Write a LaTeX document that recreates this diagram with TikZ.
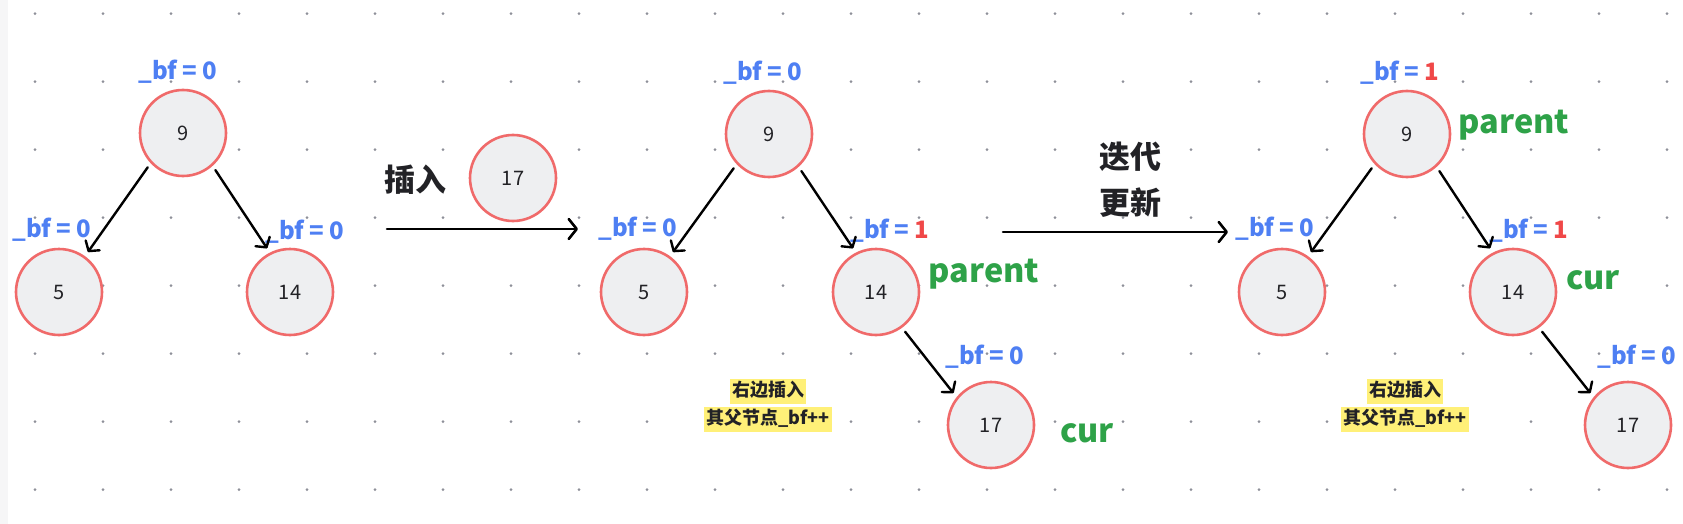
\documentclass[tikz,border=0pt]{standalone}
\usepackage{fontspec}
\setmainfont{Noto Sans CJK SC}
\usetikzlibrary{arrows.meta}
\definecolor{bfblue}{RGB}{78,127,243}
\definecolor{bfred}{RGB}{240,72,72}
\definecolor{ptgreen}{RGB}{46,162,72}
\definecolor{ringred}{RGB}{240,106,106}
\definecolor{ringfill}{RGB}{238,239,241}
\definecolor{dotgray}{RGB}{142,144,153}
\definecolor{hlyellow}{RGB}{255,240,120}
\definecolor{inkdark}{RGB}{34,34,38}
\definecolor{bandgray}{RGB}{246,246,247}
\begin{document}
\begin{tikzpicture}[x=1pt,y=-1pt,
  tnode/.style={circle,draw=ringred,fill=ringfill,line width=2.6pt,minimum size=86pt,inner sep=0pt,
    text=inkdark,font=\fontsize{20}{24}\selectfont},
  bf/.style={text=bfblue,font=\bfseries\fontsize{24}{28}\selectfont,inner sep=0pt},
  role/.style={text=ptgreen,font=\bfseries\fontsize{32.5}{38}\selectfont,inner sep=0pt},
  cjklabel/.style={text=inkdark,font=\bfseries\fontsize{31}{36}\selectfont,inner sep=0pt},
  hl/.style={fill=hlyellow,text=inkdark,font=\bfseries\fontsize{18}{22}\selectfont,
    inner xsep=2pt,inner ysep=3.5pt,text height=14pt,text depth=4pt},
  edge/.style={draw=black,line width=2.4pt,line cap=round,
    -{Straight Barb[length=7pt,width=17pt,line width=2.4pt,line cap=round,line join=round]},
    shorten <=5pt,shorten >=5pt},
  bigarrow/.style={draw=black,line width=2.6pt,line cap=round,
    -{Straight Barb[length=8pt,width=20pt,line width=2.6pt,line cap=round,line join=round]}}
]
\useasboundingbox (0,0) rectangle (1683,524);
\fill[white] (0,0) rectangle (1683,524);
\fill[bandgray] (0,0) rectangle (8,524);
\foreach \i in {0,...,24} {
  \foreach \j in {0,...,7} {
    \fill[dotgray] (35+68*\i,13.7+68*\j) circle[radius=1.5pt];
  }
}

% ---------- tree 1 ----------
\node[tnode] (a9)  at (183,133) {9};
\node[tnode] (a5)  at (59,292)  {5};
\node[tnode] (a14) at (290,292) {14};
\node[bf] (ab9)  at (178,72)  {\_bf = 0};
\node[bf] (ab5)  at (52,230)  {\_bf = 0};
\node[bf] (ab14) at (305,232) {\_bf = 0};
\draw[edge] (a9.223) -- (a5.54);
\draw[edge] (a9.312) -- (a14.117);

% ---------- insert step ----------
\node[cjklabel] (ins) at (415,180) {插入};
\node[tnode] (new17) at (513,178) {17};
\coordinate (i1s) at (387,229);
\coordinate (i1e) at (578,229);
\draw[bigarrow] (i1s) -- (i1e);

% ---------- tree 2 ----------
\node[tnode] (b9)  at (769,134) {9};
\node[tnode] (b5)  at (644,292) {5};
\node[tnode] (b14) at (876,292) {14};
\node[tnode] (b17) at (991,425) {17};
\node[bf] (bb9)  at (763,73)  {\_bf = 0};
\node[bf] (bb5)  at (638,229) {\_bf = 0};
\node[bf] (bb14) at (890,231) {\_bf = \textcolor{bfred}{1}};
\node[bf] (bb17) at (985,357) {\_bf = 0};
\node[role] (bpar) at (984,274) {parent};
\node[role] (bcur) at (1087,433) {cur};
\draw[edge] (b9.223) -- (b5.54);
\draw[edge] (b9.312) -- (b14.117);
\draw[edge] (b14.306) -- (b17.141);
\node[hl] (bh1) at (768,391.5) {右边插入};
\node[hl] (bh2) at (768,419.5) {其父节点\_bf++};

% ---------- iterate step ----------
\node[cjklabel] (it1) at (1130,157) {迭代};
\node[cjklabel] (it2) at (1130,203) {更新};
\coordinate (i2s) at (1003,232);
\coordinate (i2e) at (1228,232);
\draw[bigarrow] (i2s) -- (i2e);

% ---------- tree 3 ----------
\node[tnode] (c9)  at (1407,134) {9};
\node[tnode] (c5)  at (1282,292) {5};
\node[tnode] (c14) at (1513,292) {14};
\node[tnode] (c17) at (1628,425) {17};
\node[bf] (cb9)  at (1400,73)  {\_bf = \textcolor{bfred}{1}};
\node[bf] (cb5)  at (1275,229) {\_bf = 0};
\node[bf] (cb14) at (1529,231) {\_bf = \textcolor{bfred}{1}};
\node[bf] (cb17) at (1637,357) {\_bf = 0};
\node[role] (cpar) at (1514,125) {parent};
\node[role] (ccur) at (1593,280) {cur};
\draw[edge] (c9.223) -- (c5.54);
\draw[edge] (c9.312) -- (c14.117);
\draw[edge] (c14.306) -- (c17.141);
\node[hl] (ch1) at (1405,391.5) {右边插入};
\node[hl] (ch2) at (1405,419.5) {其父节点\_bf++};
\end{tikzpicture}
\end{document}
